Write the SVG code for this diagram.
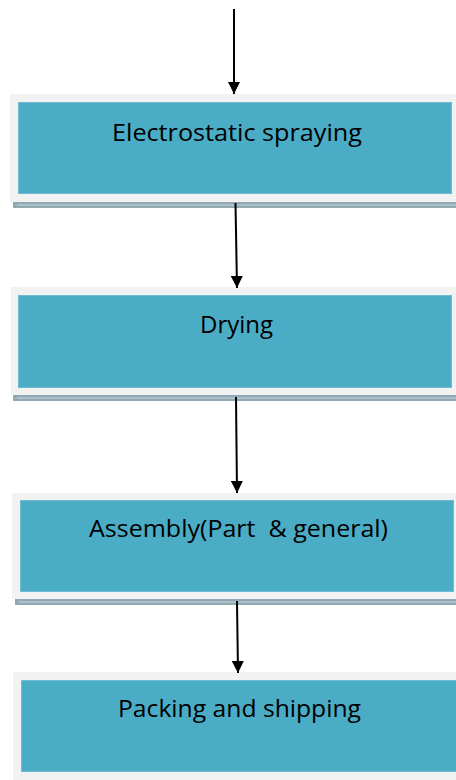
<svg xmlns="http://www.w3.org/2000/svg" width="456" height="780" viewBox="0 0 456 780">
<style>
.outer{fill:#f2f2f2}
.inner{fill:#4bacc6;stroke:#6fbdd2;stroke-width:1}
.shadow{fill:#91a9b3}
.shline{stroke:#c8d5da;stroke-width:1}
.lbl{font-family:"Open Sans","Liberation Sans",sans-serif;font-size:24px;fill:#000;text-anchor:middle;white-space:pre}
.conn{stroke:#000;stroke-width:2;fill:none}
</style>
<defs>
<marker id="ah" viewBox="0 0 12 12" refX="12" refY="6" markerWidth="12" markerHeight="12" markerUnits="userSpaceOnUse" orient="auto">
<path d="M0,0 L12,6 L0,12 Z" fill="#000"/>
</marker>
</defs>
<rect width="456" height="780" fill="#fff"/>
<g id="node1">
<rect class="shadow" x="13" y="202" width="443" height="6"/>
<line class="shline" x1="17" y1="205" x2="456" y2="205"/>
<rect class="outer" x="10" y="94" width="446" height="108"/>
<rect class="inner" x="18.5" y="102.5" width="433" height="91"/>
<text class="lbl" x="237" y="141" textLength="250" lengthAdjust="spacingAndGlyphs">Electrostatic spraying</text>
</g>
<g id="node2">
<rect class="shadow" x="13" y="395" width="443" height="6"/>
<line class="shline" x1="17" y1="398" x2="456" y2="398"/>
<rect class="outer" x="11" y="287" width="445" height="108"/>
<rect class="inner" x="18.5" y="295.5" width="433" height="92"/>
<text class="lbl" x="236.5" y="333" textLength="73" lengthAdjust="spacingAndGlyphs">Drying</text>
</g>
<g id="node3">
<rect class="shadow" x="15" y="599" width="441" height="6"/>
<line class="shline" x1="19" y1="602" x2="456" y2="602"/>
<rect class="outer" x="12" y="493" width="444" height="106"/>
<rect class="inner" x="20.5" y="500.5" width="433" height="91"/>
<text class="lbl" x="238.5" y="537" textLength="299" lengthAdjust="spacingAndGlyphs">Assembly(Part  &amp; general)</text>
</g>
<g id="node4">
<rect class="outer" x="13" y="672" width="443" height="108"/>
<rect class="inner" x="21.5" y="680.5" width="440" height="91"/>
<text class="lbl" x="239.5" y="717" textLength="243" lengthAdjust="spacingAndGlyphs">Packing and shipping</text>
</g>
<g id="connectors">
<line class="conn" x1="234" y1="9" x2="234" y2="94" marker-end="url(#ah)"/>
<line class="conn" x1="235.5" y1="203" x2="237" y2="288" marker-end="url(#ah)"/>
<line class="conn" x1="236" y1="397" x2="237" y2="493" marker-end="url(#ah)"/>
<line class="conn" x1="237" y1="601" x2="238" y2="673" marker-end="url(#ah)"/>
</g>
</svg>
